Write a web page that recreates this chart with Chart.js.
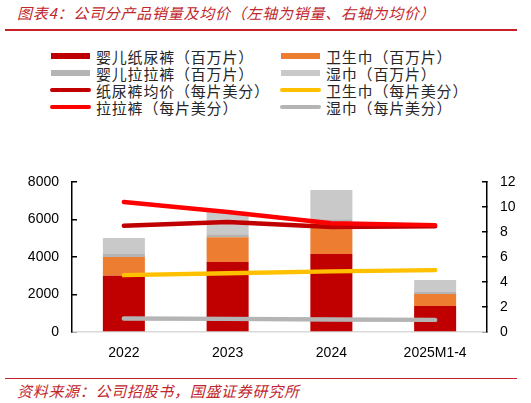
<!DOCTYPE html>
<html>
<head>
<meta charset="utf-8">
<script src="https://cdn.jsdelivr.net/npm/chart.js@4"></script>
<style>
  html, body { margin: 0; padding: 0; background: #fff; }
  body { width: 531px; height: 403px; position: relative; overflow: hidden; font-family: "Noto Sans CJK SC", sans-serif; }
  #title { position: absolute; left: 17px; top: 2px; font-size: 15px; font-style: italic; color: #C0272D; letter-spacing: 0.75px; white-space: nowrap; }
  #topline { position: absolute; left: 5px; top: 29px; width: 512px; height: 2px; background: #C8202A; }
  #botline { position: absolute; left: 5px; top: 377.5px; width: 512px; height: 1.5px; background: #C8202A; }
  #source { position: absolute; left: 17px; top: 380px; font-size: 15px; font-style: italic; color: #C0272D; letter-spacing: 0.7px; white-space: nowrap; }
  #legend { position: absolute; left: 0; top: 0; }
  .li { position: absolute; height: 17px; display: flex; align-items: center; font-size: 15px; color: #262626; white-space: nowrap; letter-spacing: 0.8px; }
  .sw { display: inline-block; width: 39px; margin-right: 6px; }
  .sw.bar { height: 6px; }
  .sw.line { height: 4px; border-radius: 2px; width: 41px; margin-left: -1px; margin-right: 5px; }
  #wrap { position: absolute; left: 0; top: 165px; width: 531px; height: 205px; }
</style>
</head>
<body>
<div id="title">图表4：公司分产品销量及均价（左轴为销量、右轴为均价）</div>
<div id="topline"></div>
<div id="legend"></div>
<div id="wrap"><canvas id="c"></canvas></div>
<div id="botline"></div>
<div id="source">资料来源：公司招股书，国盛证券研究所</div>
<script>
// ---- data ----
const categories = ['2022', '2023', '2024', '2025M1-4'];
// volumes, million pieces (left axis)
const diaperVolume   = [3000, 3730, 4160, 1390];
const padVolume      = [1000, 1330, 1700, 640];
const pullupVolume   = [160, 160, 160, 100];
const wipesVolume    = [850, 1200, 1550, 640];
// average prices, US cents per piece (right axis)
const diaperPrice    = [8.5, 8.8, 8.4, 8.45];
const pullupPrice    = [10.4, 9.6, 8.7, 8.55];
const padPrice       = [4.55, 4.7, 4.85, 4.95];
const wipesPrice     = [1.08, 1.05, 1.0, 0.97];
const leftTicks  = [0, 2000, 4000, 6000, 8000];
const rightTicks = [0, 2, 4, 6, 8, 10, 12];

const labels = {
  diaperVolume: '婴儿纸尿裤（百万片）',
  padVolume: '卫生巾（百万片）',
  pullupVolume: '婴儿拉拉裤（百万片）',
  wipesVolume: '湿巾（百万片）',
  diaperPrice: '纸尿裤均价（每片美分）',
  padPrice: '卫生巾（每片美分）',
  pullupPrice: '拉拉裤（每片美分）',
  wipesPrice: '湿巾（每片美分）'
};
const colors = {
  diaperVolume: '#C00000',
  padVolume: '#ED7D31',
  pullupVolume: '#B4B4B4',
  wipesVolume: '#C9C9C9',
  diaperPrice: '#C00000',
  padPrice: '#FFC000',
  pullupPrice: '#FF0000',
  wipesPrice: '#B4B4B4'
};

// ---- legend (two columns) ----
const legendItems = [
  ['diaperVolume', 'bar', 0, 0], ['padVolume', 'bar', 1, 0],
  ['pullupVolume', 'bar', 0, 1], ['wipesVolume', 'bar', 1, 1],
  ['diaperPrice', 'line', 0, 2], ['padPrice', 'line', 1, 2],
  ['pullupPrice', 'line', 0, 3], ['wipesPrice', 'line', 1, 3]
];
const colX = [51, 281];
const rowY = [56, 73, 90, 107];
const lg = document.getElementById('legend');
legendItems.forEach(([k, type, c, r]) => {
  const d = document.createElement('div');
  d.className = 'li';
  d.style.left = colX[c] + 'px';
  d.style.top = (rowY[r] - 8.5) + 'px';
  const s = document.createElement('span');
  s.className = 'sw ' + type;
  s.style.background = colors[k];
  d.appendChild(s);
  const t = document.createElement('span');
  t.textContent = labels[k];
  d.appendChild(t);
  lg.appendChild(d);
});

// ---- chart ----
function bar(k, data) {
  return { type: 'bar', label: labels[k], data, backgroundColor: colors[k], yAxisID: 'y', stack: 'vol', order: 10,
           barPercentage: 0.405, categoryPercentage: 1 };
}
function line(k, data, order) {
  return { type: 'line', label: labels[k], data, borderColor: colors[k], backgroundColor: colors[k], yAxisID: 'y1',
           borderWidth: 4.5, borderCapStyle: 'round', borderJoinStyle: 'round', pointRadius: 0, tension: 0, order, fill: false };
}
function fixV(w) {
  return s => { s.width = w; s.paddingTop = 0; s.paddingBottom = 0; };
}

new Chart(document.getElementById('c'), {
  data: {
    labels: categories,
    datasets: [
      bar('diaperVolume', diaperVolume),
      bar('padVolume', padVolume),
      bar('pullupVolume', pullupVolume),
      bar('wipesVolume', wipesVolume),
      line('pullupPrice', pullupPrice, 0),
      line('diaperPrice', diaperPrice, 1),
      line('padPrice', padPrice, 2),
      line('wipesPrice', wipesPrice, 3)
    ]
  },
  options: {
    responsive: true,
    maintainAspectRatio: false,
    animation: false,
    layout: { padding: { top: 17, left: 0, right: 0, bottom: 0 } },
    plugins: { legend: { display: false }, tooltip: { enabled: false } },
    scales: {
      x: {
        stacked: true,
        grid: { display: false, drawTicks: false },
        border: { display: true, color: '#D9D9D9', width: 1.5 },
        ticks: { color: '#000', font: { family: 'Liberation Sans', size: 14 }, padding: 13, maxRotation: 0 },
        afterFit(s) { s.height = 38; }
      },
      y: {
        position: 'left',
        stacked: true,
        min: 0, max: 8000,
        afterBuildTicks(s) { s.ticks = leftTicks.map(v => ({ value: v })); },
        grid: { drawOnChartArea: false, drawTicks: true, tickLength: -5, color: '#000', lineWidth: 1.5 },
        border: { display: true, color: '#000', width: 1.5 },
        ticks: { color: '#000', font: { family: 'Liberation Sans', size: 14 }, padding: 18, callback: v => String(v) },
        afterFit: fixV(72)
      },
      y1: {
        position: 'right',
        stacked: false,
        min: 0, max: 12,
        afterBuildTicks(s) { s.ticks = rightTicks.map(v => ({ value: v })); },
        grid: { drawOnChartArea: false, drawTicks: true, tickLength: -5, color: '#000', lineWidth: 1.5 },
        border: { display: true, color: '#000', width: 1.5 },
        ticks: { color: '#000', font: { family: 'Liberation Sans', size: 14 }, padding: 18, callback: v => String(v) },
        afterFit: fixV(44)
      }
    }
  }
});
</script>
</body>
</html>
